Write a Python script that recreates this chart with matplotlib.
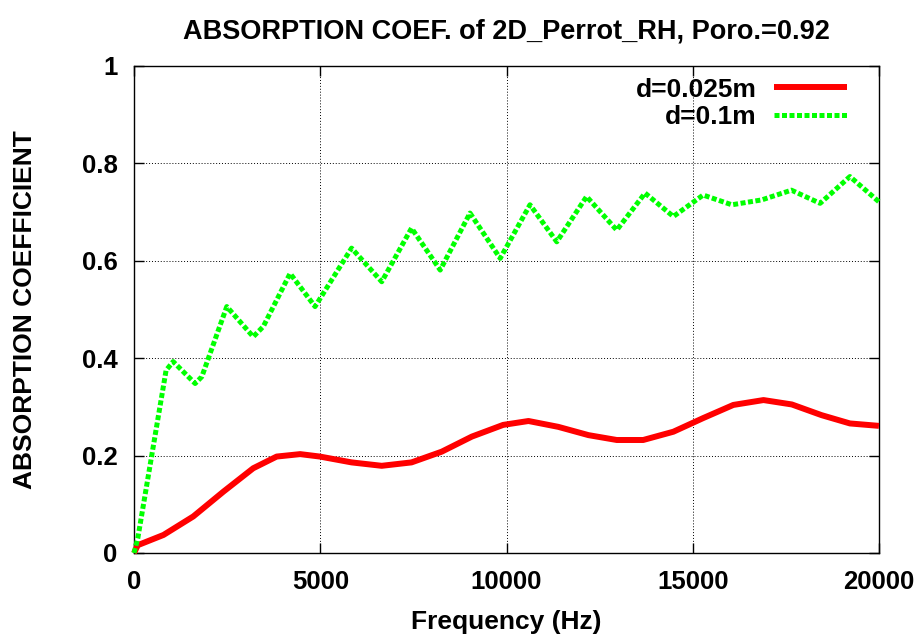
import matplotlib
matplotlib.use("Agg")
import matplotlib.pyplot as plt

plt.rcParams['font.family'] = ['Liberation Sans', 'DejaVu Sans']
plt.rcParams['font.weight'] = 'bold'

# d=0.025m (red, solid)
freq_a = [0, 100, 790, 1590, 2400, 3200, 3830, 4460, 4990, 5840, 6650, 7450, 8260, 9070,
          9910, 10590, 11390, 12200, 12960, 13670, 14480, 15280, 16090, 16900, 17660,
          18460, 19220, 20000]
coef_a = [0.0, 0.016, 0.037, 0.075, 0.126, 0.174, 0.198, 0.203, 0.198, 0.186, 0.179, 0.186,
          0.208, 0.239, 0.263, 0.271, 0.259, 0.242, 0.232, 0.232, 0.249, 0.277, 0.304,
          0.314, 0.305, 0.283, 0.266, 0.261]

# d=0.1m (green, dotted)
freq_b = [0, 100, 860, 1050, 1640, 1820, 2490, 3200, 3470, 4190, 4860, 5840, 6650, 7450,
          8220, 9020, 9830, 10630, 11350, 12150, 12960, 13720, 14480, 15280, 16050, 16850,
          17650, 18420, 19220, 20000]
coef_b = [0.0, 0.03, 0.375, 0.393, 0.348, 0.362, 0.506, 0.444, 0.465, 0.574, 0.506, 0.626,
          0.557, 0.667, 0.581, 0.698, 0.605, 0.715, 0.639, 0.732, 0.663, 0.739, 0.691,
          0.735, 0.715, 0.725, 0.745, 0.718, 0.773, 0.721]

xticks = [0, 5000, 10000, 15000, 20000]
yticks = [0, 0.2, 0.4, 0.6, 0.8, 1]
ytick_labels = ['0', '0.2', '0.4', '0.6', '0.8', '1']

fig = plt.figure(figsize=(9.2, 6.34), dpi=100)
ax = fig.add_axes([0.1457, 0.1278, 0.8097, 0.7681])

ax.plot(freq_a, coef_a, color='#ff0000', linewidth=4.3, solid_capstyle='butt',
        solid_joinstyle='round', label='d=0.025m', clip_on=False, zorder=3)
ax.plot(freq_b, coef_b, color='#00ff00', linewidth=3.6, linestyle=(0, (1.0, 0.5)),
        dash_capstyle='butt', label='d=0.1m', clip_on=False, zorder=3)

ax.set_xlim(0, 20000)
ax.set_ylim(0, 1)
ax.set_xticks(xticks)
ax.set_yticks(yticks)
ax.set_yticklabels(ytick_labels)
ax.tick_params(direction='in', length=7, width=1, labelsize=18.5, top=True, right=True,
               pad=12)
for lab in ax.get_xticklabels() + ax.get_yticklabels():
    lab.set_fontweight('bold')
ax.grid(True, color='black', linestyle=(0, (1, 2)), linewidth=0.7)
for s in ax.spines.values():
    s.set_linewidth(1.0)

ax.set_title('ABSORPTION COEF. of 2D_Perrot_RH, Poro.=0.92', fontsize=19.5,
             fontweight='bold', pad=20)
ax.set_xlabel('Frequency (Hz)', fontsize=19, fontweight='bold', labelpad=12)
ax.set_ylabel('ABSORPTION COEFFICIENT', fontsize=19, fontweight='bold', labelpad=32)

ax.legend(loc='upper right', bbox_to_anchor=(0.957, 0.976), frameon=False,
          markerfirst=False, fontsize=19, handlelength=2.77, handletextpad=0.65,
          labelspacing=0.12, borderpad=0, borderaxespad=0)

fig.savefig('out.png', dpi=100)
